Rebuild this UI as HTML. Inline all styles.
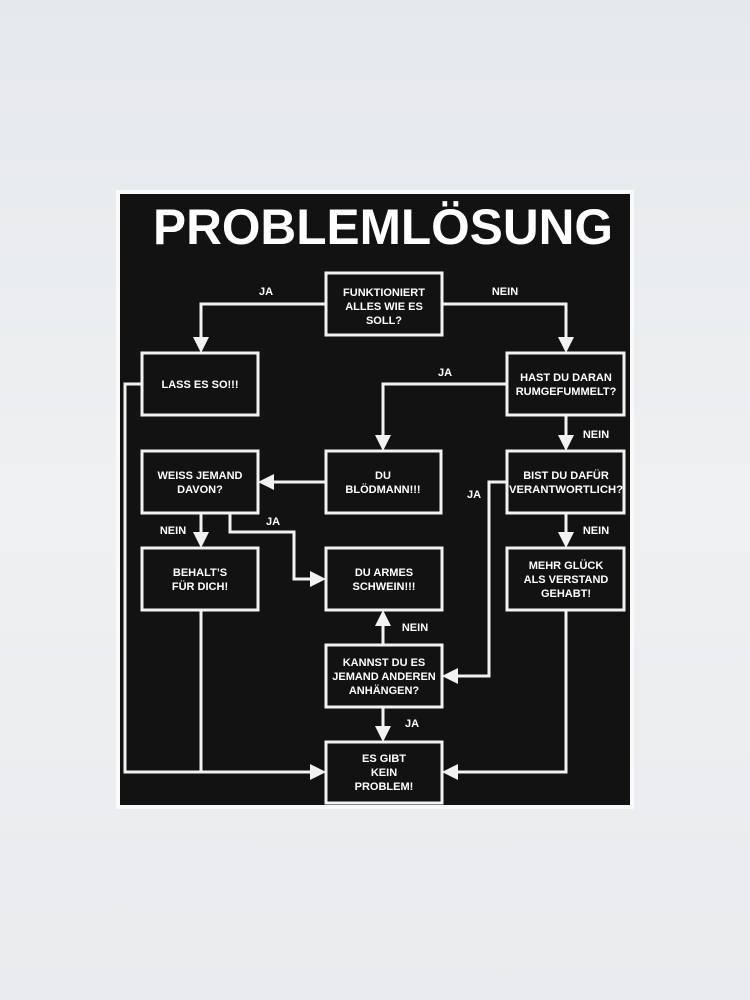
<!DOCTYPE html>
<html><head><meta charset="utf-8"><style>
html,body{margin:0;padding:0;width:750px;height:1000px;overflow:hidden;background:#eceef0}
</style></head><body>
<svg width="750" height="1000" viewBox="0 0 750 1000" xmlns="http://www.w3.org/2000/svg">
<defs>
<linearGradient id="bg" x1="0" y1="0" x2="0" y2="1">
<stop offset="0" stop-color="#e6e9ec"/><stop offset="0.5" stop-color="#eef0f2"/><stop offset="1" stop-color="#e9ebee"/>
</linearGradient>
</defs>
<rect width="750" height="1000" fill="url(#bg)"/>
<rect x="116" y="190" width="518" height="619" fill="#fafafa"/>
<rect x="120" y="194" width="510" height="611" fill="#121212"/>
<text x="153" y="244" font-family="Liberation Sans, sans-serif" font-weight="bold" font-size="50" fill="#fff" textLength="460" lengthAdjust="spacingAndGlyphs">PROBLEMLÖSUNG</text>
<g fill="none" stroke="#f2f2f2" stroke-width="3">
<rect x="326" y="273" width="116" height="62"/>
<rect x="142" y="353" width="116" height="62"/>
<rect x="507" y="353" width="117" height="62"/>
<rect x="142" y="451" width="116" height="62"/>
<rect x="326" y="451" width="115" height="62"/>
<rect x="507" y="451" width="117" height="62"/>
<rect x="142" y="548" width="116" height="62"/>
<rect x="326" y="548" width="116" height="62"/>
<rect x="507" y="548" width="117" height="62"/>
<rect x="326" y="645" width="116" height="62"/>
<rect x="326" y="742" width="116" height="61"/>
<polyline points="326,304 201,304 201,340"/>
<polyline points="442,304 566,304 566,340"/>
<polyline points="507,384 383,384 383,438"/>
<line x1="566" y1="415" x2="566" y2="438"/>
<line x1="326" y1="482" x2="271" y2="482"/>
<line x1="201" y1="513" x2="201" y2="535"/>
<polyline points="230,513 230,532 294,532 294,579 313,579"/>
<polyline points="507,482 489,482 489,676 455,676"/>
<line x1="566" y1="513" x2="566" y2="535"/>
<line x1="383" y1="645" x2="383" y2="623"/>
<line x1="383" y1="707" x2="383" y2="729"/>
<polyline points="142,384 125,384 125,772 313,772"/>
<line x1="201" y1="610" x2="201" y2="772"/>
<polyline points="566,610 566,772 455,772"/>
</g>
<g fill="#f2f2f2">
<polygon points="193,337 209,337 201,353"/>
<polygon points="558,337 574,337 566,353"/>
<polygon points="375,435 391,435 383,451"/>
<polygon points="558,435 574,435 566,451"/>
<polygon points="274,474 274,490 258,482"/>
<polygon points="193,532 209,532 201,548"/>
<polygon points="310,571 310,587 326,579"/>
<polygon points="458,668 458,684 442,676"/>
<polygon points="558,532 574,532 566,548"/>
<polygon points="375,626 391,626 383,610"/>
<polygon points="375,726 391,726 383,742"/>
<polygon points="310,764 310,780 326,772"/>
<polygon points="458,764 458,780 442,772"/>
</g>
<g font-family="Liberation Sans, sans-serif" font-weight="bold" font-size="11" fill="#fff" text-anchor="middle">
<text x="384" y="296">FUNKTIONIERT</text><text x="384" y="310">ALLES WIE ES</text><text x="384" y="324">SOLL?</text>
<text x="200" y="388">LASS ES SO!!!</text>
<text x="566" y="381">HAST DU DARAN</text><text x="566" y="395">RUMGEFUMMELT?</text>
<text x="200" y="479">WEISS JEMAND</text><text x="200" y="493">DAVON?</text>
<text x="383" y="479">DU</text><text x="383" y="493">BLÖDMANN!!!</text>
<text x="566" y="479">BIST DU DAFÜR</text><text x="566" y="493" textLength="114" lengthAdjust="spacingAndGlyphs">VERANTWORTLICH?</text>
<text x="200" y="576">BEHALT’S</text><text x="200" y="590">FÜR DICH!</text>
<text x="384" y="576">DU ARMES</text><text x="384" y="590">SCHWEIN!!!</text>
<text x="566" y="569">MEHR GLÜCK</text><text x="566" y="583">ALS VERSTAND</text><text x="566" y="597">GEHABT!</text>
<text x="384" y="666">KANNST DU ES</text><text x="384" y="680">JEMAND ANDEREN</text><text x="384" y="694">ANHÄNGEN?</text>
<text x="384" y="762">ES GIBT</text><text x="384" y="776">KEIN</text><text x="384" y="790">PROBLEM!</text>
<text x="266" y="295">JA</text>
<text x="505" y="295">NEIN</text>
<text x="445" y="376">JA</text>
<text x="596" y="438">NEIN</text>
<text x="474" y="498">JA</text>
<text x="173" y="534">NEIN</text>
<text x="273" y="525">JA</text>
<text x="596" y="534">NEIN</text>
<text x="415" y="631">NEIN</text>
<text x="412" y="727">JA</text>
</g>
</svg>
</body></html>
